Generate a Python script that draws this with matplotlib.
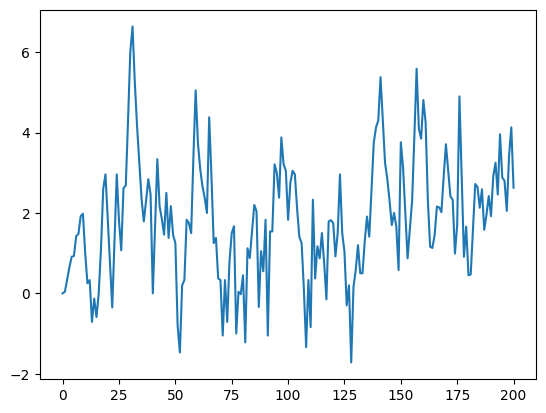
import matplotlib
matplotlib.use("Agg")
import matplotlib.pyplot as plt
import numpy as np

values = [
    0.0, 0.04, 0.35, 0.65, 0.91, 0.93, 1.42, 1.48, 1.92, 1.98,
    1.0, 0.25, 0.33, -0.71, -0.13, -0.59, 0.0, 1.1, 2.6, 2.96,
    1.86, 0.76, -0.35, 1.3, 2.96, 1.8, 1.07, 2.62, 2.68, 4.3,
    6.0, 6.64, 5.26, 4.17, 3.25, 2.35, 1.79, 2.3, 2.84, 2.46,
    0.0, 1.7, 3.34, 2.17, 1.85, 1.46, 2.5, 1.38, 2.17, 1.45,
    1.25, -0.8, -1.47, 0.2, 0.33, 1.83, 1.75, 1.5, 3.4, 5.05,
    3.75, 3.1, 2.67, 2.38, 2.0, 4.38, 2.92, 1.25, 1.38, 0.37,
    0.33, -1.05, 0.33, -0.71, 0.79, 1.5, 1.67, -1.0, 0.04, -0.02,
    0.45, -1.22, 1.12, 0.88, 1.55, 2.2, 2.04, -0.34, 1.05, 0.55,
    1.83, -1.05, 1.54, 1.54, 3.21, 3.0, 2.38, 3.88, 3.21, 3.05,
    1.83, 2.75, 3.05, 2.96, 2.1, 1.4, 1.25, 0.1, -1.34, 0.33,
    -0.84, 2.33, 0.37, 1.17, 0.87, 1.5, 0.75, -0.15, 1.79, 1.82,
    1.75, 0.92, 1.5, 2.96, 1.5, 1.04, -0.3, 0.2, -1.72, 0.16,
    0.58, 1.2, 0.5, 0.5, 1.3, 1.91, 1.41, 2.6, 3.75, 4.13,
    4.3, 5.38, 4.3, 3.25, 2.85, 2.3, 1.7, 2.0, 1.66, 0.58,
    3.76, 3.12, 2.0, 0.87, 1.6, 2.29, 3.9, 5.59, 4.1, 3.85,
    4.81, 4.25, 2.3, 1.16, 1.13, 1.45, 2.16, 2.14, 2.02, 2.9,
    3.71, 3.05, 2.41, 2.33, 0.99, 1.7, 4.9, 2.9, 0.91, 1.66,
    0.45, 0.47, 1.6, 2.72, 2.65, 2.13, 2.59, 1.58, 1.96, 2.42,
    1.92, 2.92, 3.25, 2.46, 3.96, 2.88, 2.8, 2.05, 3.42, 4.13,
    2.63,
]
steps = np.arange(len(values))

fig, ax = plt.subplots(figsize=(6.4, 4.8), dpi=100)
ax.plot(steps, values, color="#1f77b4")
fig.savefig("out.png", dpi=100, bbox_inches="tight")
